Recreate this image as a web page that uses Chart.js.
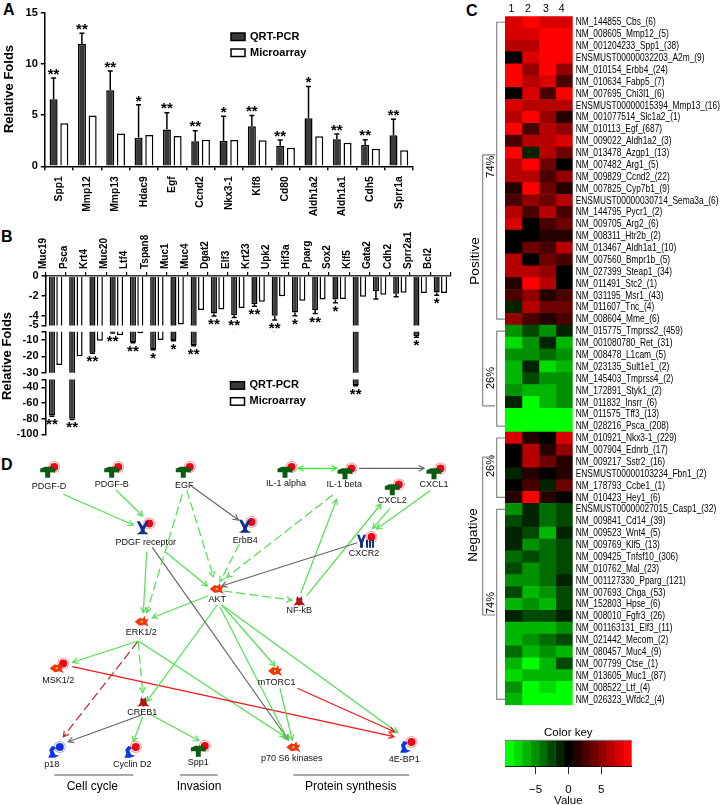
<!DOCTYPE html>
<html lang="en">
<head>
  <meta charset="UTF-8">
  <title>Relative folds, expression heatmap and pathway</title>
  <script src="https://cdn.jsdelivr.net/npm/chart.js"></script>
  <style>
    body { margin: 0; background: #fff; }
    #page { position: relative; width: 721px; height: 805px; overflow: hidden; }
    canvas { position: absolute; }
    .tag { position: absolute; font: bold 16px "Liberation Sans", Arial, sans-serif; line-height: 16px; color: #000; }
  </style>
</head>
<body>
<div id="page">
  <div class="tag" style="left:3px;top:2px">A</div>
  <div class="tag" style="left:1px;top:229px">B</div>
  <div class="tag" style="left:466px;top:3px">C</div>
  <div class="tag" style="left:1px;top:457px">D</div>
  <canvas id="chartA" width="440" height="225" style="left:0;top:0"></canvas>
  <canvas id="chartB0" width="470" height="115" style="left:0;top:220px"></canvas>
  <canvas id="chartB1" width="470" height="110" style="left:0;top:300px"></canvas>
  <canvas id="chartB2" width="470" height="75" style="left:0;top:370px"></canvas>
  <canvas id="chartD" width="470" height="375" style="left:0;top:430px"></canvas>
  <canvas id="chartC" width="261" height="725" style="left:460px;top:0"></canvas>
  <canvas id="chartKey" width="261" height="83" style="left:460px;top:725px"></canvas>
</div>

<script>
  const ARIAL = '"Liberation Sans", Arial, sans-serif';

  // panel A
  const genesA = ['Spp1','Mmp12','Mmp13','Hdac9','Egf','Ccnd2','Nkx3-1','Klf8','Cd80','Aldh1a2','Aldh1a1','Cdh5','Sprr1a'];
  const qrtA   = [6.54,11.94,7.42,2.8,3.6,2.44,2.47,3.9,2.0,4.69,2.64,2.08,3.03];
  const errA   = [8.62,13.0,9.3,6.0,5.24,3.48,4.88,4.95,2.57,7.8,3.16,2.6,4.59];
  const microA = [4.2,4.95,3.2,3.06,2.96,2.6,2.57,2.54,1.82,2.93,2.31,1.72,1.56];
  const starsA = ['**','**','**','*','**','**','*','**','**','*','**','**','**'];

  // panel B, the axis is broken at -5 and -30
  const genesB = ['Muc19','Psca','Krt4','Muc20','Ltf4','Tspan8','Muc1','Muc4','Dgat2','Elf3','Krt23','Upk2','Hif3a','Pparg','Sox2','Klf5','Gata2','Cdh2','Sprr2a1','Bcl2'];
  const qrtB   = [-76,-80,-17.8,-5.4,-11.5,-15.8,-10.3,-13.3,-3.8,-3.97,-2.83,-4.03,-3.7,-3.45,-2.37,-37,-1.53,-1.8,-7.6,-1.66];
  const errB   = [-77,-81,-18.2,-5.8,-11.8,-16,-10.5,-13.5,-4.05,-4.2,-3.05,-4.45,-4.03,-3.8,-2.7,-38,-2.34,-2.1,-8.4,-1.95];
  const microB = [-25.3,-20,-10.5,-7.2,-6,-10,-4.9,-3.45,-3.4,-3.25,-2.6,-2.05,-2.5,-2.37,-2.34,-2.1,-1.9,-1.7,-1.72,-1.72];
  const starsB = ['**','**','**','**','**','*','*','**','**','**','**','**','*','**','*','**','','','*','*'];
  const ticksB0 = [0,-2,-4,-5];
  const ticksB1 = [-5,-10,-20,-30];
  const ticksB2 = [-30,-40,-60,-80,-100];

  // panel C
  const heatRows = ['NM_144855_Cbs_(6)','NM_008605_Mmp12_(5)','NM_001204233_Spp1_(38)','ENSMUST00000032203_A2m_(9)','NM_010154_Erbb4_(24)','NM_010634_Fabp5_(7)','NM_007695_Chi3l1_(6)','ENSMUST00000015394_Mmp13_(16)','NM_001077514_Slc1a2_(1)','NM_010113_Egf_(687)','NM_009022_Aldh1a2_(3)','NM_013478_Azgp1_(13)','NM_007482_Arg1_(5)','NM_009829_Ccnd2_(22)','NM_007825_Cyp7b1_(9)','ENSMUST00000030714_Sema3a_(6)','NM_144795_Pycr1_(2)','NM_009705_Arg2_(6)','NM_008311_Htr2b_(2)','NM_013467_Aldh1a1_(10)','NM_007560_Bmpr1b_(5)','NM_027399_Steap1_(34)','NM_011491_Stc2_(1)','NM_031195_Msr1_(43)','NM_011607_Tnc_(4)','NM_008604_Mme_(6)','NM_015775_Tmprss2_(459)','NM_001080780_Ret_(31)','NM_008478_L1cam_(5)','NM_023135_Sult1e1_(2)','NM_145403_Tmprss4_(2)','NM_172891_Styk1_(2)','NM_011832_Insrr_(6)','NM_011575_Tff3_(13)','NM_028216_Psca_(208)','NM_010921_Nkx3-1_(229)','NM_007904_Ednrb_(17)','NM_009217_Sstr2_(16)','ENSMUST00000103234_Fbn1_(2)','NM_178793_Ccbe1_(1)','NM_010423_Hey1_(6)','ENSMUST00000027015_Casp1_(32)','NM_009841_Cd14_(39)','NM_009523_Wnt4_(5)','NM_009769_Klf5_(13)','NM_009425_Tnfsf10_(306)','NM_010762_Mal_(23)','NM_001127330_Pparg_(121)','NM_007693_Chga_(53)','NM_152803_Hpse_(6)','NM_008010_Fgfr3_(26)','NM_001163131_Elf3_(11)','NM_021442_Mecom_(2)','NM_080457_Muc4_(9)','NM_007799_Ctse_(1)','NM_013605_Muc1_(87)','NM_008522_Ltf_(4)','NM_026323_Wfdc2_(4)'];
  const heatValues = [
    [8,9,8,8],[8,8,9,9],[7,7,9,9],[0,8,9,9],[9,4.5,9,5.5],[9,7,8,3],[0,8,3,9],[8,6,6,6],[7,9,5,1],[9,2.5,7,5],
    [3,7,6,8],[9,-1.3,7,4],[7,9,4,0],[7,6,3,5.5],[1.3,9,4,1.3],[2.5,5.5,4,7],[7,2.5,6,3],[8,0,3,4],[0,0,1.3,1.3],[0,4,2.5,7],
    [7,0,3.5,2.5],[6,7,5,0],[1.3,9,7,0],[3,4.5,1.3,2.5],[-1.3,7,4,4],[4.5,3,1.3,2.5],
    [-4.5,-3,-4.5,-1.3],[-8,-4.5,-1.3,-6.5],[-4.5,-5.5,-4,-5.5],[-6.5,-1.3,-8,-6.5],[-6.5,-3,-5.5,-5.5],[-5.5,-6,-6,-5.5],[-1.3,-9,-6.5,-5.5],[-9,-9,-9,-9],[-9,-9,-9,-9],
    [8,1.3,0,8],[0,6,1.3,5.5],[0,7,3.5,1.3],[-1.3,1.3,0,1.3],[0,2.5,-1.3,3.5],[1.3,9,1.3,0],
    [-4.5,-1.3,-3.5,-2.5],[-2.5,-1.3,-3.5,-2.5],[-1.3,-2.5,-6,-1.3],[-1.3,-5,-3.5,-2.5],[-3.5,-2.5,-3.5,-2.5],[-2.5,-4.5,-3.5,-2.5],[-4.5,-4.5,-3.5,-1.3],
    [-3,-7,-5.5,-2.5],[-6,-5.5,-7,-2.5],[-1.3,-3,-2.5,-1.3],[-6,-7,-7,-4.5],[-6,-5,-4,-2.5],[-4,-6.5,-5,-7],[-7,-8.5,-7,-3],[-8,-7,-7,-7],[-5.5,-9,-7.5,-9],[-7,-9,-9,-9]
  ];
  const heatColumns = ['1','2','3','4'];
  const keyValues = [-9,-7.7,-6.4,-5.1,-3.9,-2.6,-1.3,0,1.3,2.6,3.9,5.1,6.4,7.7,9];
  const keyTicks = [-5,0,5];
  // [first row, last row, label]
  const innerBrackets = [[0,25,'74%',166.7],[26,34,'26%',378],[35,40,'26%',466],[41,57,'74%',603]];

  // panel D, coordinates
  const nodeNames = ['PDGF-D','PDGF-B','EGF','PDGF receptor','ErbB4','AKT','ERK1/2','MSK1/2','CREB1','p18','Cyclin D2','Spp1','IL-1 alpha','IL-1 beta','CXCL1','CXCL2','CXCR2','NF-kB','mTORC1','p70 S6 kinases','4E-BP1'];
  const nodeKinds = ['ligand','ligand','ligand','receptor','receptor','kinase','kinase','kinase','factor','other','other','ligand','ligand','ligand','ligand','ligand','chemokine','factor','kinase','kinase','other'];
  const nodeHalos = ['red','red','red','red','red','','','red','','blue','red','red','red','red','red','red','red','','','','red'];
  const nodeX  = [47.7,111.7,183.3,142.7,245,216.7,141.7,56.7,143.3,53.3,129.3,198.3,285,345,434,392.3,365,299.3,275,293.3,405];
  const nodeY  = [471.7,471.7,471.7,528.3,526.7,589,621.7,668.3,701.7,751.7,751.7,750.7,471.7,473.3,473.3,489.3,541.7,600.7,671,747.3,746.7];
  const labelX = [49,111.7,184.3,145.7,245.3,217.3,141.3,58.3,142.3,51.7,132.3,198.3,286,344.3,434,392.3,364,299.3,276.7,291.7,404.3];
  const labelY = [486.7,484.7,485.3,542.7,540.7,600,632.7,680.7,712.7,764.7,764.3,762.3,483.3,485,485,501,553.7,611,683,759,759.7];
  const edgeFrom = [[63.3,494.3],[116,490],[190,485],[182.3,494.3],[186.7,490],[165,551.7],[146.7,551.7],[152.3,547.3],[239.3,544.3],[332.7,495],[357.3,542.7],[223.3,591],[300.7,593.3],[306.7,595.7],[390,508.3],[430,490.7],[298.3,468.3],[359,468.3],[208.3,595.7],[217.3,605],[221.7,605],[220,607],[221.7,605],[280,688.3],[297.3,688.3],[72.3,666.7],[138.3,641],[138.3,641],[138.3,641.7],[137.7,641.7],[141.7,715],[142.7,716.7],[150,714.3]];
  const edgeTo   = [[133.3,525],[142.7,516],[238.3,520],[146.7,612.7],[213.3,576.7],[207.3,586],[143.3,612.7],[288.3,740],[220,581.7],[226.7,577.3],[221.7,586],[291.7,600],[336.7,499.3],[381,504],[372.7,528.3],[376.7,529],[336.7,468.3],[424,468.3],[152.3,617.7],[146.7,701.7],[275,666],[288,740],[397.7,732.7],[292.3,740],[394.3,731.7],[394,736.7],[72.7,662.3],[285,736.7],[142.7,692.7],[63.3,736.7],[68.3,741.7],[133.3,741.7],[199,740.7]];
  const edgeKinds = ['green','green','gray','greenDash','greenDash','green','green','gray','greenDash','greenDash','gray','greenDash','green','green','green','green','both','gray','green','green','green','green','green','green','red','red','green','green','greenDash','redDash','gray','green','green'];
  const groupNames = ['Cell cycle','Invasion','Protein synthesis'];
  const groupFrom  = [54.3,180,293.3];
  const groupTo    = [133.3,217.7,409.3];
  const groupTextX = [92.3,199,350.7];

  function drawVText(ctx, text, x, y, font) {
    ctx.save();
    ctx.translate(x, y);
    ctx.rotate(-Math.PI / 2);
    ctx.font = font;
    ctx.fillStyle = '#000';
    ctx.textAlign = 'center';
    ctx.textBaseline = 'middle';
    ctx.fillText(text, 0, 0);
    ctx.restore();
  }

  function drawLegend(ctx, x, y1, y2, w, h) {
    ctx.save();
    ctx.lineWidth = 1.5;
    ctx.strokeStyle = '#000';
    ctx.fillStyle = '#3a3a3a';
    ctx.fillRect(x, y1, w, h);
    ctx.strokeRect(x, y1, w, h);
    ctx.fillStyle = '#fff';
    ctx.fillRect(x, y2, w, h);
    ctx.strokeRect(x, y2, w, h);
    ctx.fillStyle = '#000';
    ctx.font = 'bold 11px ' + ARIAL;
    ctx.textAlign = 'left';
    ctx.textBaseline = 'middle';
    ctx.fillText('QRT-PCR', x + w + 5, y1 + h / 2);
    ctx.fillText('Microarray', x + w + 5, y2 + h / 2);
    ctx.restore();
  }

  // error whiskers and significance stars, read through the y scale
  function errorPlugin(errs, stars, starGap, extra) {
    return {
      id: 'errorBars',
      afterDatasetsDraw(chart) {
        const ctx = chart.ctx, y = chart.scales.y, area = chart.chartArea;
        const bars = chart.getDatasetMeta(0).data;
        const lo = Math.min(y.min, y.max), hi = Math.max(y.min, y.max);
        ctx.save();
        ctx.strokeStyle = '#000';
        ctx.lineWidth = 1.5;
        ctx.save();
        ctx.beginPath();
        ctx.rect(area.left, area.top, area.width, area.height);
        ctx.clip();
        errs.forEach((e, i) => {
          const x = bars[i].x;
          ctx.beginPath();
          ctx.moveTo(x, bars[i].y);
          ctx.lineTo(x, y.getPixelForValue(e));
          ctx.moveTo(x - 2.5, y.getPixelForValue(e));
          ctx.lineTo(x + 2.5, y.getPixelForValue(e));
          ctx.stroke();
        });
        ctx.restore();
        ctx.fillStyle = '#000';
        ctx.font = 'bold 15px ' + ARIAL;
        ctx.textAlign = 'center';
        ctx.textBaseline = 'alphabetic';
        errs.forEach((e, i) => {
          if (e < lo || e > hi || !stars[i]) return;
          ctx.fillText(stars[i], bars[i].x, y.getPixelForValue(e) + starGap);
        });
        ctx.restore();
        if (extra) extra(ctx);
      }
    };
  }

  function barDatasets(qrt, micro) {
    return [
      { label: 'QRT-PCR', data: qrt, backgroundColor: '#3a3a3a', borderColor: '#000', borderWidth: 1.5 },
      { label: 'Microarray', data: micro, backgroundColor: '#fff', borderColor: '#000', borderWidth: 1.5 }
    ];
  }

  new Chart(document.getElementById('chartA'), {
    type: 'bar',
    data: { labels: genesA, datasets: barDatasets(qrtA, microA) },
    options: {
      responsive: false,
      animation: false,
      layout: { padding: { top: 12.7, right: 27 } },
      datasets: { bar: { categoryPercentage: 0.756, barPercentage: 0.75 } },
      plugins: { legend: { display: false }, tooltip: { enabled: false } },
      scales: {
        x: {
          afterFit: s => { s.height = 58.7; },
          border: { color: '#000', width: 1.5 },
          grid: { drawOnChartArea: false, color: '#000', lineWidth: 1.5, tickLength: 4 },
          ticks: { autoSkip: false, minRotation: 90, maxRotation: 90, padding: 6, color: '#000', font: { family: ARIAL, size: 10.3, weight: 'bold' } }
        },
        y: {
          min: 0, max: 15,
          afterFit: s => { s.width = 44.8; },
          border: { color: '#000', width: 1.5 },
          grid: { drawOnChartArea: false, color: '#000', lineWidth: 1.5, tickLength: 4 },
          ticks: { stepSize: 5, padding: 3, color: '#000', font: { family: ARIAL, size: 11, weight: 'bold' } }
        }
      }
    },
    plugins: [errorPlugin(errA, starsA, 0.7, ctx => {
      drawVText(ctx, 'Relative Folds', 9, 89, 'bold 13px ' + ARIAL);
      drawLegend(ctx, 231, 33, 49, 14, 7.5);
    })]
  });

  // panel B is three stacked charts, one per piece of the broken axis
  function brokenChart(id, min, max, tickList, sizes, extra) {
    return new Chart(document.getElementById(id), {
      type: 'bar',
      data: { labels: genesB, datasets: barDatasets(qrtB, microB) },
      options: {
        responsive: false,
        animation: false,
        layout: { padding: { top: sizes.top, right: 19.5, bottom: sizes.bottom } },
        datasets: { bar: { categoryPercentage: 0.73, barPercentage: 0.82 } },
        plugins: { legend: { display: false }, tooltip: { enabled: false } },
        scales: {
          x: {
            position: 'top',
            display: sizes.showX,
            afterFit: s => { s.height = sizes.xHeight; },
            border: { color: '#333', width: 1.5 },
            grid: { drawOnChartArea: false, color: '#000', lineWidth: 1.2, tickLength: 4 },
            ticks: { autoSkip: false, minRotation: 90, maxRotation: 90, padding: 3, color: '#000', font: { family: ARIAL, size: 10, weight: 'bold' } }
          },
          y: {
            min: min, max: max,
            afterFit: s => { s.width = 45.5; },
            afterBuildTicks: s => { s.ticks = tickList.map(v => ({ value: v })); },
            border: { color: '#000', width: 1.5 },
            grid: { drawOnChartArea: false, color: '#000', lineWidth: 1.5, tickLength: 4 },
            ticks: {
              padding: 3, color: '#000', autoSkip: false,
              font: { family: ARIAL, size: 11, weight: 'bold' },
              callback: v => (v === -5 && tickList[0] === -5) || (v === -30 && tickList[0] === -30) ? '' : String(v)
            }
          }
        }
      },
      plugins: [errorPlugin(errB, starsB, 13, extra)]
    });
  }
  brokenChart('chartB0', -5, 0, ticksB0, { top: 0, bottom: 7.5, xHeight: 56, showX: true });
  brokenChart('chartB1', -30, -5, ticksB1, { top: 31.7, bottom: 37.3, xHeight: 0, showX: false }, ctx => {
    drawVText(ctx, 'Relative Folds', 7, 56, 'bold 13px ' + ARIAL);
  });
  brokenChart('chartB2', -100, -30, ticksB2, { top: 7, bottom: 10.7, xHeight: 0, showX: false }, ctx => {
    drawLegend(ctx, 230.5, 11.7, 27.7, 14, 7.5);
  });

  // heatmap colours come in the 15 steps of the colour key
  function heatColor(v) {
    const n = Math.max(-7, Math.min(7, Math.round(v / 1.285)));
    const level = Math.round(Math.abs(n) / 7 * 255);
    return n > 0 ? `rgb(${level},0,0)` : `rgb(0,${level},0)`;
  }

  const bracketPlugin = {
    id: 'brackets',
    afterDraw(chart) {
      const ctx = chart.ctx, y = chart.scales.y;
      const line = (x0, i0, i1, x1) => {
        ctx.beginPath();
        ctx.moveTo(x1, y.getPixelForValue(i0));
        ctx.lineTo(x0, y.getPixelForValue(i0));
        ctx.lineTo(x0, y.getPixelForValue(i1));
        ctx.lineTo(x1, y.getPixelForValue(i1));
        ctx.stroke();
      };
      ctx.save();
      ctx.strokeStyle = '#888';
      ctx.lineWidth = 1.2;
      innerBrackets.forEach(b => {
        line(36.7, b[0], b[1], 45);
        drawVText(ctx, b[2], 31, b[3], '11px ' + ARIAL);
      });
      line(22.7, 11.17, 32.3, 35);
      line(22.7, 36.6, 49.9, 35);
      drawVText(ctx, 'Positive', 15, 261, '13.5px ' + ARIAL);
      drawVText(ctx, 'Negative', 13.5, 535, '13.5px ' + ARIAL);
      // row names, squeezed because no narrow face is installed
      ctx.fillStyle = '#000';
      ctx.font = '10.6px ' + ARIAL;
      ctx.textAlign = 'left';
      ctx.textBaseline = 'middle';
      heatRows.forEach((name, i) => {
        ctx.save();
        ctx.translate(chart.chartArea.right + 3, y.getPixelForValue(i));
        ctx.scale(0.79, 1.08);
        ctx.fillText(name, 0, 0);
        ctx.restore();
      });
      ctx.restore();
    }
  };

  new Chart(document.getElementById('chartC'), {
    type: 'bar',
    data: {
      labels: heatRows,
      datasets: heatColumns.map((name, c) => ({
        label: name,
        data: heatRows.map(() => [c, c + 1]),
        backgroundColor: heatValues.map(row => heatColor(row[c])),
        borderWidth: 0
      }))
    },
    options: {
      indexAxis: 'y',
      responsive: false,
      animation: false,
      layout: { padding: { left: 45, bottom: 19.7 } },
      datasets: { bar: { categoryPercentage: 1, barPercentage: 1, grouped: false } },
      plugins: { legend: { display: false }, tooltip: { enabled: false } },
      scales: {
        x: {
          position: 'top',
          min: 0, max: 4,
          afterFit: s => { s.height = 16.3; },
          afterBuildTicks: s => { s.ticks = [0.38, 1.35, 2.42, 3.35].map(v => ({ value: v })); },
          border: { display: false },
          grid: { display: false, drawTicks: false },
          ticks: { padding: 1, color: '#000', font: { family: ARIAL, size: 10.5 }, callback: (v, i) => heatColumns[i] }
        },
        y: {
          position: 'right',
          afterFit: s => { s.width = 148.3; },
          border: { display: false },
          grid: { display: false, drawTicks: false },
          ticks: { display: false }
        }
      }
    },
    plugins: [bracketPlugin]
  });

  new Chart(document.getElementById('chartKey'), {
    type: 'bar',
    data: {
      labels: ['key'],
      datasets: keyValues.map(v => ({
        data: [[v - 0.643, v + 0.643]],
        backgroundColor: heatColor(v),
        borderWidth: 0
      }))
    },
    options: {
      indexAxis: 'y',
      responsive: false,
      animation: false,
      layout: { padding: { left: 45, top: 15.3, right: 89.3 } },
      datasets: { bar: { categoryPercentage: 1, barPercentage: 1, grouped: false } },
      plugins: { legend: { display: false }, tooltip: { enabled: false } },
      scales: {
        x: {
          min: -9.64, max: 9.64,
          afterFit: s => { s.height = 41.7; },
          afterBuildTicks: s => { s.ticks = keyTicks.map(v => ({ value: v })); },
          border: { color: '#000', width: 1 },
          grid: { drawOnChartArea: false, color: '#333', lineWidth: 1, tickLength: 8 },
          ticks: { padding: 9, color: '#000', font: { family: ARIAL, size: 11.5 }, callback: v => String(v).replace('-', '\u2212') },
          title: { display: true, text: 'Value', color: '#000', padding: 0, font: { family: ARIAL, size: 11.5 } }
        },
        y: { display: false }
      }
    },
    plugins: [{
      id: 'keyTitle',
      afterDraw(chart) {
        const ctx = chart.ctx, a = chart.chartArea;
        ctx.save();
        ctx.strokeStyle = '#777';
        ctx.beginPath();
        ctx.moveTo(a.left, a.top);
        ctx.lineTo(a.right, a.top);
        ctx.stroke();
        ctx.fillStyle = '#000';
        ctx.font = '11.5px ' + ARIAL;
        ctx.textAlign = 'center';
        ctx.textBaseline = 'middle';
        ctx.fillText('Color key', 108.3, 8.3);
        ctx.restore();
      }
    }]
  });

  // pathway symbols
  function drawHalo(ctx, x, y, color) {
    const main = color === 'blue' ? '#1030e0' : '#f00010';
    const pale = color === 'blue' ? '#9fb0f0' : '#f59a9a';
    ctx.fillStyle = pale;
    ctx.beginPath(); ctx.arc(x, y, 6, 0, 7); ctx.fill();
    ctx.fillStyle = '#fff';
    ctx.beginPath(); ctx.arc(x, y, 5, 0, 7); ctx.fill();
    ctx.fillStyle = main;
    ctx.beginPath(); ctx.arc(x, y, 4, 0, 7); ctx.fill();
  }

  function poly(ctx, x, y, pts, color) {
    ctx.fillStyle = color;
    ctx.beginPath();
    pts.forEach((p, i) => i ? ctx.lineTo(x + p[0], y + p[1]) : ctx.moveTo(x + p[0], y + p[1]));
    ctx.closePath();
    ctx.fill();
  }

  const symbols = {
    ligand(ctx, x, y) {
      poly(ctx, x, y, [[-7.5,-3],[-3,-5],[4,-5],[7.5,-3],[7.5,0.5],[2.5,0.5],[2.5,6],[-2.5,6],[-2.5,0.5],[-7.5,0.5]], '#0a5a12');
    },
    receptor(ctx, x, y) {
      poly(ctx, x, y, [[-6,-7],[-3,-7],[0,-2],[3,-7],[6,-7],[2,1],[2,3],[6,6],[-6,6],[-2,3],[-2,1]], '#12308c');
    },
    chemokine(ctx, x, y) {
      poly(ctx, x, y, [[-8,-7],[-5.5,-7],[-3.5,-2],[-1.5,-7],[1,-7],[-2,1],[-2,6],[-5,6],[-5,1]], '#12308c');
      [2, 5, 8].forEach(dx => poly(ctx, x, y, [[dx-1,-2],[dx+1,-2],[dx+1,6],[dx-1,6]], '#12308c'));
    },
    kinase(ctx, x, y) {
      poly(ctx, x, y, [[-7,0],[-2,-4],[1,-3],[3,-6],[4,-2],[7,-3],[5,1],[7,5],[3,3],[-2,4]], '#f03410');
      ctx.fillStyle = '#ffd000';
      ctx.fillRect(x - 1, y - 1, 2, 2);
    },
    factor(ctx, x, y) {
      poly(ctx, x, y, [[-2,-5],[-1,-3],[1,-3],[2,-5],[3,-2],[3,1],[6,5],[2,4],[0,5],[-2,4],[-6,5],[-3,1],[-3,-2]], '#b01818');
    },
    other(ctx, x, y) {
      poly(ctx, x, y, [[-1,-6],[3,-4],[0,-1],[2,3],[6,4],[1,6],[-5,6],[-3,2],[-4,-2]], '#1038e0');
    }
  };

  const edgeStyles = {
    green: { color: '#50e050', dash: [] },
    greenDash: { color: '#50e050', dash: [9, 4] },
    both: { color: '#30f030', dash: [] },
    gray: { color: '#666', dash: [] },
    red: { color: '#f01818', dash: [] },
    redDash: { color: '#c02830', dash: [9, 4] }
  };

  function drawHead(ctx, from, to) {
    const ang = Math.atan2(to[1] - from[1], to[0] - from[0]);
    ctx.beginPath();
    ctx.moveTo(to[0] - 6 * Math.cos(ang - 0.5), to[1] - 6 * Math.sin(ang - 0.5));
    ctx.lineTo(to[0], to[1]);
    ctx.lineTo(to[0] - 6 * Math.cos(ang + 0.5), to[1] - 6 * Math.sin(ang + 0.5));
    ctx.stroke();
  }

  const edgeSets = edgeFrom.map((p, i) => ({
    data: [{ x: p[0], y: p[1] }, { x: edgeTo[i][0], y: edgeTo[i][1] }],
    showLine: true,
    pointRadius: 0,
    borderWidth: 1.2,
    borderColor: edgeStyles[edgeKinds[i]].color,
    borderDash: edgeStyles[edgeKinds[i]].dash
  }));
  const groupSets = groupNames.map((n, i) => ({
    data: [{ x: groupFrom[i], y: 775 }, { x: groupTo[i], y: 775 }],
    showLine: true,
    pointRadius: 0,
    borderWidth: 1,
    borderColor: '#555'
  }));

  new Chart(document.getElementById('chartD'), {
    type: 'scatter',
    data: { datasets: edgeSets.concat(groupSets) },
    options: {
      responsive: false,
      animation: false,
      plugins: { legend: { display: false }, tooltip: { enabled: false } },
      scales: {
        x: { type: 'linear', min: 0, max: 470, display: false },
        y: { type: 'linear', min: 430, max: 805, reverse: true, display: false }
      }
    },
    plugins: [{
      id: 'pathway',
      afterDatasetsDraw(chart) {
        const ctx = chart.ctx, sx = chart.scales.x, sy = chart.scales.y;
        const pt = p => [sx.getPixelForValue(p[0]), sy.getPixelForValue(p[1])];
        ctx.save();
        ctx.lineWidth = 1.2;
        edgeFrom.forEach((p, i) => {
          const a = pt(p), b = pt(edgeTo[i]);
          ctx.strokeStyle = edgeStyles[edgeKinds[i]].color;
          drawHead(ctx, a, b);
          if (edgeKinds[i] === 'both') drawHead(ctx, b, a);
        });
        nodeNames.forEach((name, i) => {
          const x = sx.getPixelForValue(nodeX[i]), y = sy.getPixelForValue(nodeY[i]);
          if (nodeHalos[i]) drawHalo(ctx, x + 6.5, y - 4.7, nodeHalos[i]);
          symbols[nodeKinds[i]](ctx, x, y);
        });
        ctx.fillStyle = '#111';
        ctx.font = '9px ' + ARIAL;
        ctx.textAlign = 'center';
        ctx.textBaseline = 'middle';
        nodeNames.forEach((name, i) => {
          ctx.fillText(name, sx.getPixelForValue(labelX[i]), sy.getPixelForValue(labelY[i]));
        });
        ctx.fillStyle = '#000';
        ctx.font = '12px ' + ARIAL;
        groupNames.forEach((name, i) => {
          ctx.fillText(name, sx.getPixelForValue(groupTextX[i]), sy.getPixelForValue(786.7));
        });
        ctx.restore();
      }
    }]
  });
</script>
</body>
</html>
